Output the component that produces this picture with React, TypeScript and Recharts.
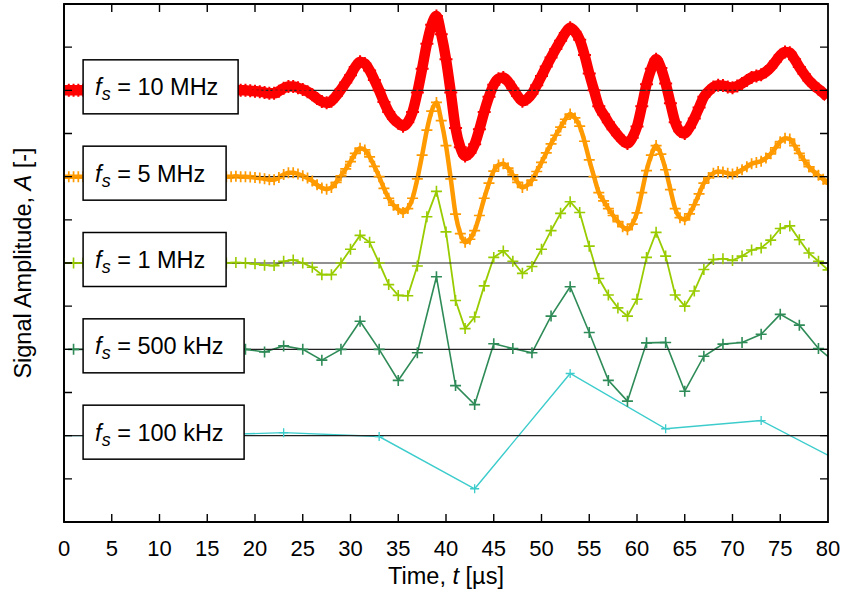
import React from 'react';
import { LineChart, Line, XAxis, YAxis, ReferenceLine, ReferenceDot, ReferenceArea } from 'recharts';

const FONT = '"Liberation Sans", Arial, Helvetica, sans-serif';

// ---- data, amplitudes relative to each trace's baseline ----
const xTicks = [0, 5, 10, 15, 20, 25, 30, 35, 40, 45, 50, 55, 60, 65, 70, 75, 80];
const yTicks = [0, 1, 2, 3, 4, 5, 6, 7, 8, 9, 10, 11, 12];

const baselines = [10, 8, 6, 4, 2];
const labelTexts = ['10 MHz', '5 MHz', '1 MHz', '500 kHz', '100 kHz'];

// dense traces (10 MHz / 5 MHz), read every 0.5 µs from t = 0 to 80
const fineTimes = Array.from({ length: 161 }, (_, i) => i * 0.5);
const fineSignal = [
  0, 0, 0, 0, 0, 0, 0, 0, 0, 0, 0, 0, 0, 0, 0, 0, 0, 0,
  0, 0, 0, 0, 0, 0, 0, 0, 0, 0, 0, 0, 0, 0, 0, 0, 0, 0,
  0.01, 0, 0, -0.01, -0.02, -0.03, -0.05, -0.07, -0.07, -0.02,
  0.05, 0.09, 0.09, 0.06, 0.02, -0.03, -0.1, -0.19, -0.26, -0.29,
  -0.25, -0.13, 0.02, 0.18, 0.35, 0.54, 0.66, 0.62, 0.46, 0.24,
  0.0, -0.27, -0.5, -0.66, -0.76, -0.83, -0.74, -0.5, -0.05, 0.5,
  1.08, 1.52, 1.72, 1.3, 0.72, -0.05, -0.87, -1.32, -1.52, -1.45,
  -1.25, -0.9, -0.5, -0.15, 0.13, 0.27, 0.3, 0.2, 0.04, -0.13,
  -0.25, -0.2, -0.08, 0.12, 0.33, 0.55, 0.76, 0.96, 1.15, 1.33,
  1.45, 1.36, 1.17, 0.82, 0.39, 0.0, -0.37, -0.56, -0.74, -0.9,
  -1.04, -1.16, -1.23, -1.1, -0.84, -0.37, 0.14, 0.5, 0.72, 0.52,
  0.16, -0.3, -0.74, -0.95, -1.0, -0.86, -0.65, -0.4, -0.15, -0.02,
  0.08, 0.12, 0.11, 0.08, 0.06, 0.1, 0.16, 0.23, 0.3, 0.33,
  0.36, 0.43, 0.53, 0.67, 0.81, 0.89, 0.87, 0.72, 0.54, 0.38,
  0.23, 0.12, 0.03, -0.06, -0.16,
];

// 1 MHz samples, t = 0..80
const times1MHz = Array.from({ length: 81 }, (_, i) => i);
const signal1MHz = [
  0, 0, 0, 0, 0, 0, 0, 0, 0, 0, 0, 0, 0, 0, 0, 0, 0, 0,
  0.01, 0, -0.02, -0.05, -0.06, 0.04, 0.07, 0.0, -0.1, -0.27,
  -0.27, 0.0, 0.32, 0.64, 0.48, 0.0, -0.5, -0.75, -0.76, -0.07,
  1.07, 1.66, 0.72, -0.87, -1.52, -1.25, -0.53, 0.13, 0.28, 0.04,
  -0.24, -0.08, 0.32, 0.75, 1.15, 1.42, 1.17, 0.39, -0.36, -0.74,
  -1.04, -1.23, -0.84, 0.13, 0.71, 0.16, -0.74, -1.0, -0.65, -0.15,
  0.08, 0.1, 0.06, 0.16, 0.3, 0.35, 0.53, 0.8, 0.86, 0.54,
  0.23, 0.04, -0.16,
];

// 500 kHz samples, t = 1, 3, ..., 81
const times500kHz = Array.from({ length: 41 }, (_, i) => 1 + 2 * i);
const signal500kHz = [
  0, 0, 0, 0, 0, 0, 0, 0, 0, 0, -0.06, 0.08, 0, -0.25, 0, 0.65,
  0, -0.72, -0.08, 1.68, -0.84, -1.28, 0.13, 0.02, -0.08, 0.77,
  1.45, 0.39, -0.72, -1.2, 0.15, 0.16, -0.97, -0.16, 0.12, 0.16,
  0.35, 0.81, 0.56, 0.02, -0.35,
];

// 100 kHz samples
const times100kHz = [-7, 3, 13, 23, 33, 43, 53, 63, 73, 83];
const signal100kHz = [0, 0, 0, 0.07, -0.02, -1.23, 1.44, 0.16, 0.35, -0.8];

// ---- styles ----
const colors = ['#ff0000', '#ff9a00', '#99cc00', '#2e8b57', '#3ccccc'];
const boxWidths = [155, 143, 143, 161, 161];
const TICK_LEN = 8;

const toPoints = (times: number[], values: number[], base: number) =>
  times.map((t, i) => ({ t, y: base + values[i] }));

const series = [
  toPoints(fineTimes, fineSignal, baselines[0]),
  toPoints(fineTimes, fineSignal, baselines[1]),
  toPoints(times1MHz, signal1MHz, baselines[2]),
  toPoints(times500kHz, signal500kHz, baselines[3]),
  toPoints(times100kHz, signal100kHz, baselines[4]),
];

const crossDot = (size: number, color: string, sw: number) => (props: any) => {
  const { cx, cy, index } = props;
  if (cx == null || cy == null || isNaN(cx) || isNaN(cy)) return <g key={`e${index}`} />;
  const h = size / 2;
  return (
    <path
      key={`c${index}`}
      d={`M${cx - h},${cy}H${cx + h}M${cx},${cy - h}V${cy + h}`}
      stroke={color}
      strokeWidth={sw}
      fill="none"
    />
  );
};

const makeLabelBox = (text: string, w: number) => (props: any) => {
  const { cx, cy } = props;
  return (
    <g>
      <rect x={cx} y={cy - 30.5} width={w} height={54} fill="#fff" stroke="#000" strokeWidth={1.5} />
      <text x={cx + 12} y={cy + 5} fontSize={23.5} fontFamily={FONT} fill="#000">
        <tspan fontStyle="italic">f</tspan>
        <tspan fontStyle="italic" fontSize={18} dy={5}>s</tspan>
        <tspan dy={-5}>{' = ' + text}</tspan>
      </text>
    </g>
  );
};

// inward tick marks at both ends of a full-span reference line
const endTicks = (props: any) => {
  const { x1, y1, x2, y2 } = props;
  if ([x1, y1, x2, y2].some((v) => v == null || isNaN(v))) return <g />;
  const vertical = Math.abs(x1 - x2) < 0.5;
  const top = Math.min(y1, y2);
  const bottom = Math.max(y1, y2);
  const left = Math.min(x1, x2);
  const right = Math.max(x1, x2);
  const d = vertical
    ? `M${x1},${top}V${top + TICK_LEN}M${x1},${bottom}V${bottom - TICK_LEN}`
    : `M${left},${y1}H${left + TICK_LEN}M${right},${y1}H${right - TICK_LEN}`;
  return <path d={d} stroke="#000" strokeWidth={1.4} fill="none" />;
};

const axisLine = { stroke: '#000', strokeWidth: 1.8 };

export default function App() {
  return (
    <div style={{ position: 'absolute', left: 0, top: 0, width: 845, height: 592, background: '#fff' }}>
      <LineChart width={845} height={592} margin={{ top: 4, right: 17, bottom: 0, left: 0 }}>
        <XAxis
          xAxisId="b"
          type="number"
          dataKey="t"
          domain={[0, 80]}
          ticks={xTicks}
          interval={0}
          allowDataOverflow
          orientation="bottom"
          height={70}
          tickSize={-8}
          tickMargin={26}
          axisLine={axisLine}
          tickLine={false}
          tick={{ fill: '#000', fontSize: 22, fontFamily: FONT }}
        />
        <YAxis
          yAxisId="l"
          type="number"
          domain={[0, 12]}
          ticks={yTicks}
          interval={0}
          allowDataOverflow
          width={64}
          tickSize={-8}
          axisLine={axisLine}
          tickLine={false}
          tick={false}
        />

        <Line
          xAxisId="b" yAxisId="l" data={series[4]} dataKey="y" type="linear"
          stroke={colors[4]} strokeWidth={1.4} dot={crossDot(9, colors[4], 1.3)}
          isAnimationActive={false}
        />
        <Line
          xAxisId="b" yAxisId="l" data={series[3]} dataKey="y" type="linear"
          stroke={colors[3]} strokeWidth={1.6} dot={crossDot(11, colors[3], 1.6)}
          isAnimationActive={false}
        />
        <Line
          xAxisId="b" yAxisId="l" data={series[2]} dataKey="y" type="linear"
          stroke={colors[2]} strokeWidth={1.8} dot={crossDot(11, colors[2], 1.6)}
          isAnimationActive={false}
        />
        <Line
          xAxisId="b" yAxisId="l" data={series[1]} dataKey="y" type="monotone"
          stroke={colors[1]} strokeWidth={4.5} strokeLinejoin="round" dot={crossDot(11, colors[1], 1.7)}
          isAnimationActive={false}
        />
        <Line
          xAxisId="b" yAxisId="l" data={series[0]} dataKey="y" type="monotone"
          stroke={colors[0]} strokeWidth={10.5} strokeLinejoin="round" dot={crossDot(13, colors[0], 2)}
          isAnimationActive={false}
        />

        {baselines.map((b) => (
          <ReferenceLine key={`bl${b}`} xAxisId="b" yAxisId="l" y={b} stroke="#222" strokeWidth={1.2} zIndex={450} />
        ))}
        {xTicks.slice(1, -1).map((t) => (
          <ReferenceLine key={`xt${t}`} xAxisId="b" yAxisId="l" x={t} zIndex={1300} shape={endTicks} />
        ))}
        {yTicks.slice(1, -1).map((v) => (
          <ReferenceLine key={`yt${v}`} xAxisId="b" yAxisId="l" y={v} zIndex={1300} shape={endTicks} />
        ))}
        <ReferenceArea
          xAxisId="b"
          yAxisId="l"
          x1={0}
          x2={80}
          y1={0}
          y2={12}
          fill="none"
          fillOpacity={0}
          stroke="#000"
          strokeWidth={1.8}
          zIndex={1400}
        />
        {baselines.map((b, i) => (
          <ReferenceDot
            key={`lb${b}`}
            xAxisId="b"
            yAxisId="l"
            x={2}
            y={b}
            r={1}
            zIndex={1500}
            shape={makeLabelBox(labelTexts[i], boxWidths[i])}
          />
        ))}
      </LineChart>
      <svg
        width={845}
        height={592}
        style={{ position: 'absolute', left: 0, top: 0, pointerEvents: 'none' }}
      >
        <text x={446} y={584} textAnchor="middle" fontSize={23.5} fontFamily={FONT} fill="#000">
          Time, <tspan fontStyle="italic">t</tspan> [µs]
        </text>
        <text
          transform="translate(31,263) rotate(-90)"
          textAnchor="middle"
          fontSize={23.5}
          fontFamily={FONT}
          fill="#000"
        >
          Signal Amplitude, <tspan fontStyle="italic">A</tspan> [-]
        </text>
      </svg>
    </div>
  );
}
